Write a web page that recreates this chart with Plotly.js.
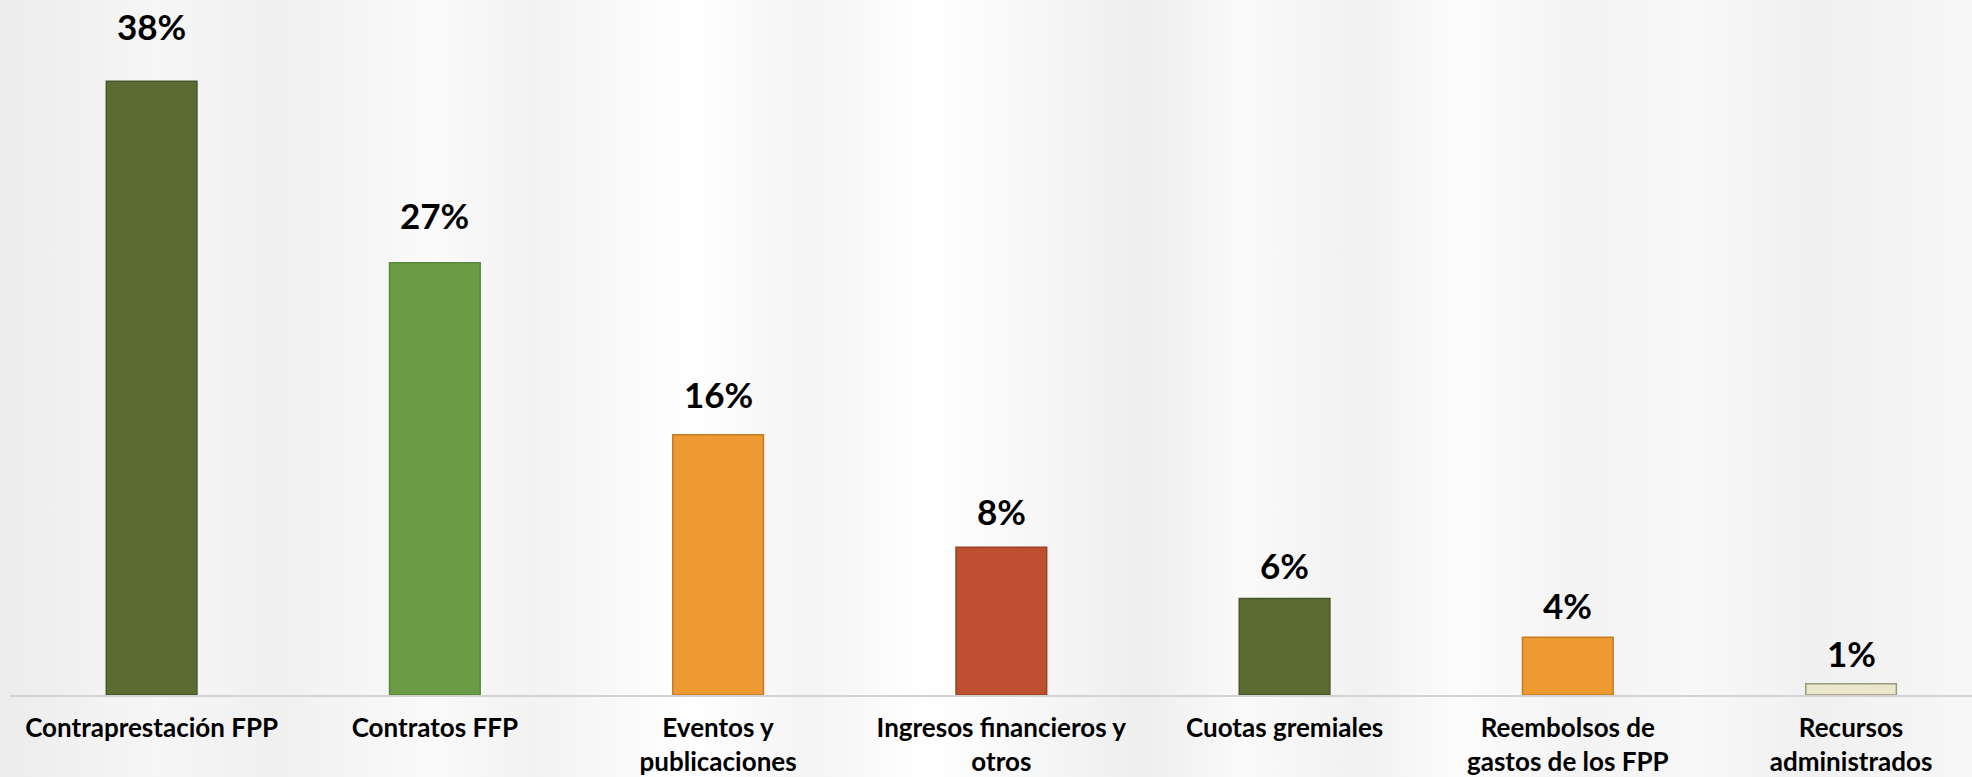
<!DOCTYPE html>
<html>
<head>
<meta charset="utf-8">
<script src="https://cdn.plot.ly/plotly-3.0.1.min.js"></script>
<style>
  html, body { margin: 0; padding: 0; }
  #chart {
    width: 1972px; height: 777px;
    background:
      linear-gradient(90deg,
        rgba(236,236,236,1) 0%, rgba(246,246,246,1) 8%, rgba(240,240,240,1) 14%,
        rgba(250,250,250,1) 22%, rgba(242,242,242,1) 27%, rgba(255,255,255,1) 35%,
        rgba(244,244,244,1) 41%, rgba(255,255,255,1) 47%, rgba(246,246,246,1) 53%,
        rgba(238,238,238,1) 58%, rgba(250,250,250,1) 63%, rgba(241,241,241,1) 69%,
        rgba(252,252,252,1) 74%, rgba(243,243,243,1) 80%, rgba(248,248,248,1) 86%,
        rgba(240,240,240,1) 92%, rgba(247,247,247,1) 100%);
  }
</style>
</head>
<body>
<div id="chart"></div>
<script>
// Categories (tick labels)
const categories = [
  "Contraprestación FPP",
  "Contratos FFP",
  "Eventos y<br>publicaciones",
  "Ingresos financieros y<br>otros",
  "Cuotas gremiales",
  "Reembolsos de<br>gastos de los FPP",
  "Recursos<br>administrados"
];
// Bar heights (percent)
const values = [38.2, 26.9, 16.2, 9.2, 6.0, 3.6, 0.7];
// Data labels as printed
const labels = ["38%", "27%", "16%", "8%", "6%", "4%", "1%"];
// Bar colours
const colors = ["#5b6b31", "#6b9c45", "#ee9a32", "#bc5030", "#5b6b31", "#ee9a32", "#ebe7cc"];
const lineColors = ["#48562a", "#5a853a", "#c77a22", "#9a3f24", "#48562a", "#c77a22", "#9a987e"];

const xs = categories.map((_, i) => i);

const trace = {
  type: "bar",
  x: xs,
  y: values,
  marker: { color: colors, line: { color: lineColors, width: 1.5 } },
  hoverinfo: "skip"
};

const annotations = xs.map((x, i) => ({
  x: x, y: values[i], xref: "x", yref: "y",
  text: labels[i], showarrow: false,
  yanchor: "middle", yshift: 30 + 0.65 * values[i],
  font: { family: "Lato, 'DejaVu Sans', sans-serif", size: 35, color: "#000", weight: 700 }
}));

const layout = {
  width: 1972, height: 777,
  margin: { l: 10, r: 0, t: 0, b: 82 },
  paper_bgcolor: "rgba(0,0,0,0)",
  plot_bgcolor: "rgba(0,0,0,0)",
  showlegend: false,
  bargap: 0.68,
  xaxis: {
    range: [-0.5, 6.427],
    tickmode: "array", tickvals: xs, ticktext: categories,
    showgrid: false, zeroline: false,
    showline: true, linecolor: "#d2d2d2", linewidth: 2,
    ticks: "", ticklabelstandoff: 9,
    tickfont: { family: "Lato, 'DejaVu Sans', sans-serif", size: 26, color: "#000", weight: 700 }
  },
  yaxis: {
    range: [0, 43.25], visible: false, showgrid: false, zeroline: false
  },
  annotations: annotations
};

Plotly.newPlot("chart", [trace], layout, { staticPlot: true, displayModeBar: false });
</script>
</body>
</html>
